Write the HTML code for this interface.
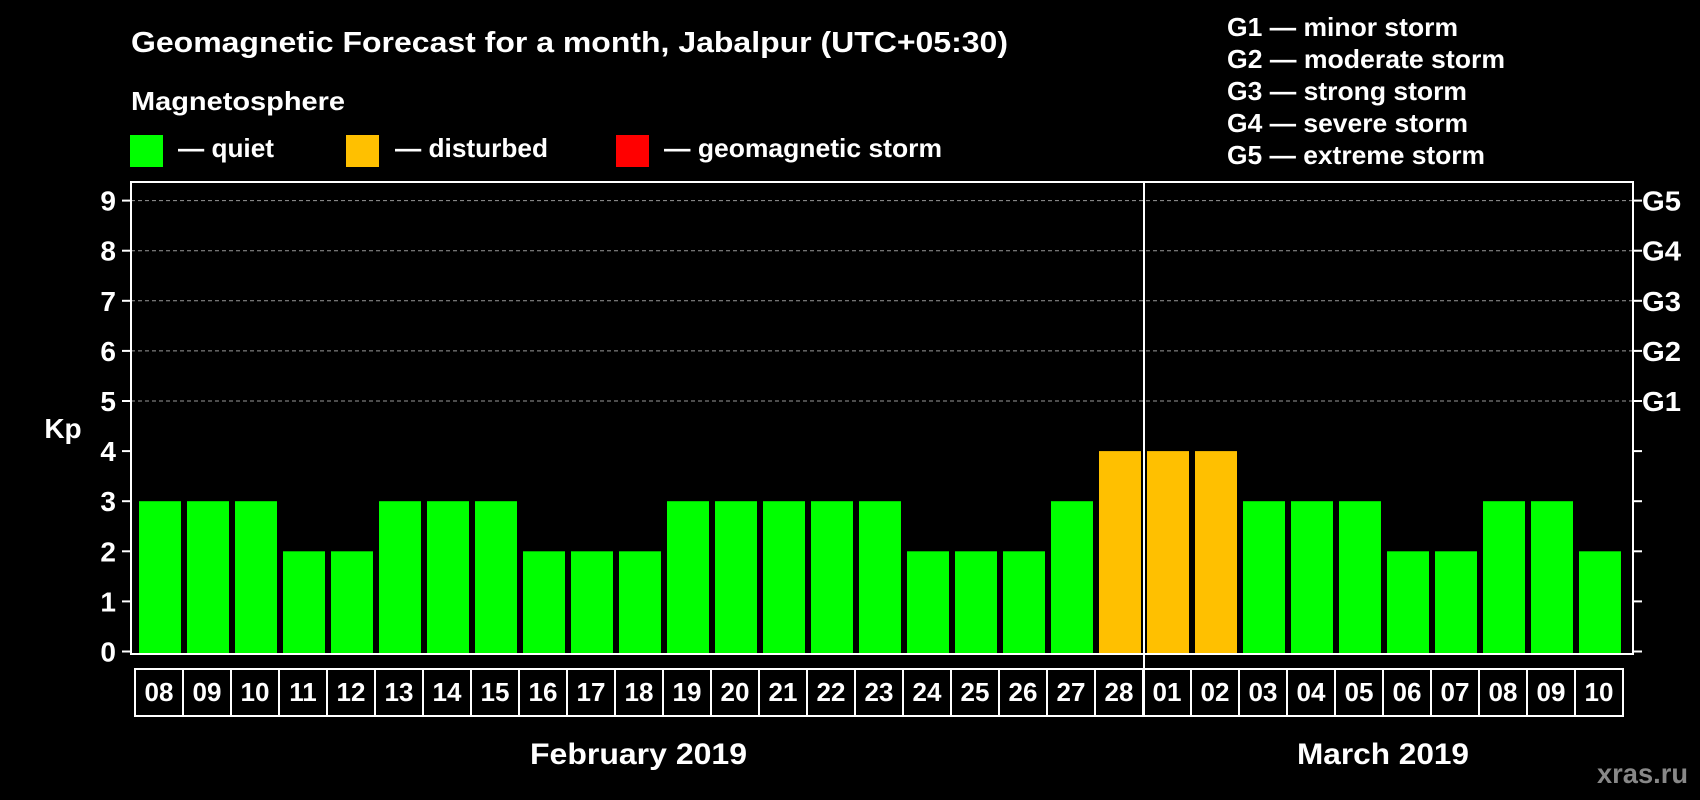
<!DOCTYPE html>
<html><head><meta charset="utf-8"><style>
html,body{margin:0;padding:0;background:#000;width:1700px;height:800px;overflow:hidden}
svg{display:block}
text{font-family:"Liberation Sans",Arial,sans-serif;font-weight:bold;fill:#fff}
</style></head><body>
<svg id="chart" width="1700" height="800" xmlns="http://www.w3.org/2000/svg">
<text x="131" y="52" font-size="29" textLength="877" lengthAdjust="spacingAndGlyphs">Geomagnetic Forecast for a month, Jabalpur (UTC+05:30)</text>
<text x="131" y="110" font-size="26" textLength="214" lengthAdjust="spacingAndGlyphs">Magnetosphere</text>
<g><rect x="130" y="135" width="33" height="32" fill="#00ff00"/><text x="178" y="157" font-size="26" textLength="96" lengthAdjust="spacingAndGlyphs">— quiet</text></g>
<g><rect x="346" y="135" width="33" height="32" fill="#ffc000"/><text x="395" y="157" font-size="26" textLength="153" lengthAdjust="spacingAndGlyphs">— disturbed</text></g>
<g><rect x="616" y="135" width="33" height="32" fill="#ff0000"/><text x="664" y="157" font-size="26" textLength="278" lengthAdjust="spacingAndGlyphs">— geomagnetic storm</text></g>
<g font-size="26">
<text x="1227" y="36" textLength="231" lengthAdjust="spacingAndGlyphs">G1 — minor storm</text>
<text x="1227" y="68" textLength="278" lengthAdjust="spacingAndGlyphs">G2 — moderate storm</text>
<text x="1227" y="100" textLength="240" lengthAdjust="spacingAndGlyphs">G3 — strong storm</text>
<text x="1227" y="132" textLength="241" lengthAdjust="spacingAndGlyphs">G4 — severe storm</text>
<text x="1227" y="164" textLength="258" lengthAdjust="spacingAndGlyphs">G5 — extreme storm</text>
</g>
<text x="63" y="438" font-size="28" text-anchor="middle">Kp</text>
<g id="plot"></g>
<text x="530" y="764" font-size="30" textLength="217" lengthAdjust="spacingAndGlyphs">February 2019</text>
<text x="1297" y="764" font-size="30" textLength="172" lengthAdjust="spacingAndGlyphs">March 2019</text>
<text x="1597" y="783" font-size="28" textLength="91" lengthAdjust="spacingAndGlyphs" style="fill:#888">xras.ru</text>
</svg>
<script>
const days = ["08","09","10","11","12","13","14","15","16","17","18","19","20","21","22","23","24","25","26","27","28","01","02","03","04","05","06","07","08","09","10"];
const kpValues = [3,3,3,2,2,3,3,3,2,2,2,3,3,3,3,3,2,2,2,3,4,4,4,3,3,3,2,2,3,3,2];
const yTicks = [0,1,2,3,4,5,6,7,8,9];
const gLabels = ["","","","","","G1","G2","G3","G4","G5"];
const monthBreakIndex = 21;

const NS="http://www.w3.org/2000/svg";
const g=document.getElementById('plot');
const L=131,R=1633,T=182,B=654;
const y0=651.5, unit=(651.5-200.6)/9;
const x0=135, step=48;
function yS(v){return y0-v*unit;}
function xS(i){return x0+i*step;}
function mk(t,a){const e=document.createElementNS(NS,t);for(const k in a)e.setAttribute(k,a[k]);g.appendChild(e);return e;}

yTicks.forEach((v,i)=>{
  const y=yS(v);
  if(v>=5){const gl=mk('line',{x1:L,x2:R,y1:y,y2:y,stroke:'#999','stroke-width':1,'stroke-dasharray':'4,3'});
    
    }
  const t1=mk('line',{x1:L-9,x2:L,y1:y,y2:y,stroke:'#fff','stroke-width':2});
  
  
  const t2=mk('line',{x1:R,x2:R+9,y1:y,y2:y,stroke:'#fff','stroke-width':2});
  
  
  const tl=mk('text',{x:116,y:y+10,'font-size':28,'text-anchor':'end'});tl.textContent=v;
  
  
  if(gLabels[i]){const gt=mk('text',{x:1642,y:y+10,'font-size':28,textLength:39,lengthAdjust:'spacingAndGlyphs'});gt.textContent=gLabels[i];
    
    }
});

kpValues.forEach((v,i)=>{
  const b=mk('rect',{x:xS(i)+4,y:yS(v),width:42,height:B-yS(v),fill:v>=5?'#ff0000':(v>=4?'#ffc000':'#00ff00')});
  
  
  const bx=mk('rect',{x:xS(i),y:669,width:step,height:47,fill:'none',stroke:'#fff','stroke-width':2});
  
  
  const dt=mk('text',{x:xS(i)+step/2,y:701,'font-size':26,'text-anchor':'middle'});dt.textContent=days[i];
  
  
});

const fr=mk('rect',{x:L,y:T,width:R-L,height:B-T,fill:'none',stroke:'#fff','stroke-width':2});


const mx=xS(monthBreakIndex)+1;
const dv=mk('line',{x1:mx,x2:mx,y1:T,y2:716,stroke:'#fff','stroke-width':2});


</script>
</body></html>
